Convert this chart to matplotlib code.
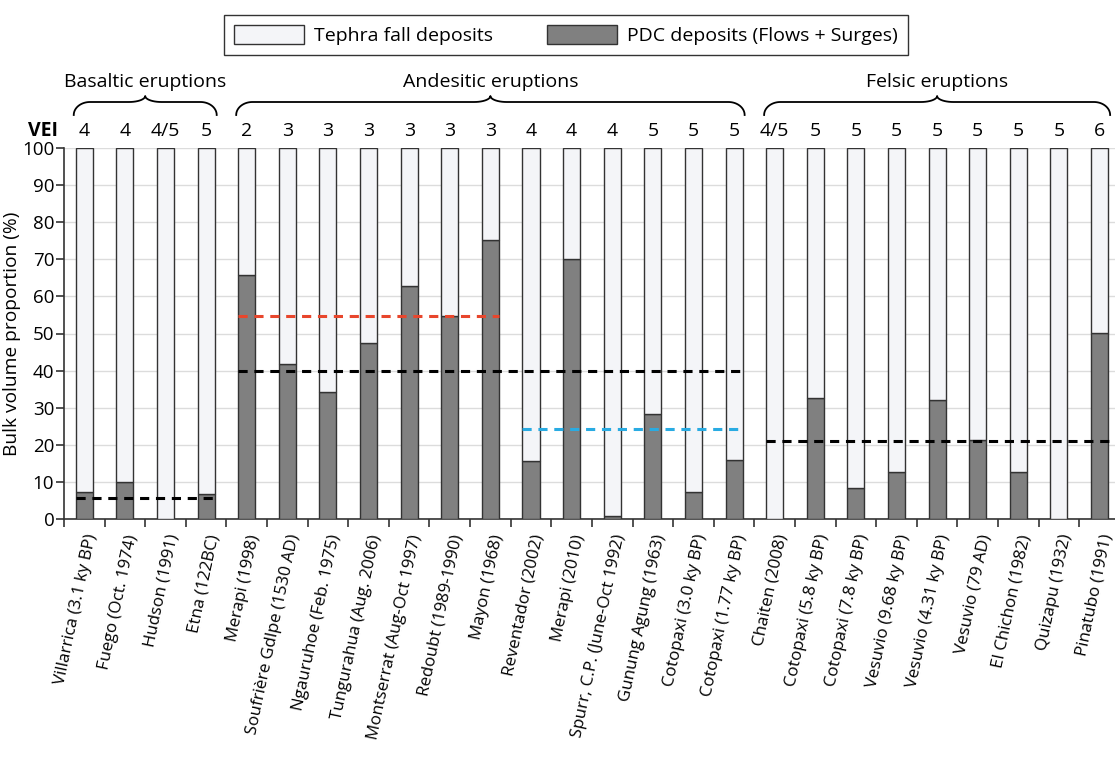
import numpy as np
import matplotlib.pyplot as plt
from matplotlib.transforms import blended_transform_factory, ScaledTranslation

plt.rcParams['font.family'] = ['Open Sans', 'DejaVu Sans']

# eruptions, left to right
eruptions = ['Villarrica (3.1 ky BP)', 'Fuego (Oct. 1974)', 'Hudson (1991)', 'Etna (122BC)',
             'Merapi (1998)', 'Soufrière Gdlpe (1530 AD)', 'Ngauruhoe (Feb. 1975)',
             'Tungurahua (Aug. 2006)', 'Montserrat (Aug-Oct 1997)', 'Redoubt (1989-1990)',
             'Mayon (1968)', 'Reventador (2002)', 'Merapi (2010)', 'Spurr, C.P. (June-Oct 1992)',
             'Gunung Agung (1963)', 'Cotopaxi (3.0 ky BP)', 'Cotopaxi (1.77 ky BP)',
             'Chaiten (2008)', 'Cotopaxi (5.8 ky BP)', 'Cotopaxi (7.8 ky BP)',
             'Vesuvio (9.68 ky BP)', 'Vesuvio (4.31 ky BP)', 'Vesuvio (79 AD)',
             'El Chichon (1982)', 'Quizapu (1932)', 'Pinatubo (1991)']
vei = ['4', '4', '4/5', '5', '2', '3', '3', '3', '3', '3', '3', '4', '4', '4', '5', '5', '5',
       '4/5', '5', '5', '5', '5', '5', '5', '5', '6']
pdc = [7.2, 9.9, 0, 6.7, 65.8, 41.9, 34.3, 47.4, 62.8, 54.6, 75.1, 15.5, 70.2, 0.9,
       28.3, 7.4, 16.0, 0, 32.7, 8.3, 12.6, 32.1, 21.2, 12.6, 0, 50.1]
tephra = [100 - v for v in pdc]

# mean lines: (first bar, last bar, value, colour)
means = [(0, 3, 5.7, 'black'), (4, 10, 54.6, '#e8462c'), (4, 16, 40.0, 'black'),
         (11, 16, 24.3, '#29abe2'), (17, 25, 21.1, 'black')]
# groups: (first bar, last bar, label)
groups = [(0, 3, 'Basaltic eruptions'), (4, 16, 'Andesitic eruptions'),
          (17, 25, 'Felsic eruptions')]

W, H = 1115, 774
fig = plt.figure(figsize=(W / 100, H / 100), dpi=100)
ax = fig.add_axes([64 / W, 1 - 519 / H, (1115 - 64) / W, (519 - 148) / H])

n = len(eruptions)
x = np.arange(n)
bw = 0.42
ax.bar(x, pdc, bw, color='#808080', edgecolor='#333333', linewidth=1, zorder=3)
ax.bar(x, tephra, bw, bottom=pdc, color='#f4f5f8', edgecolor='#333333', linewidth=1,
       zorder=3)

for a, b, v, c in means:
    ax.plot([a - bw / 2, b + bw / 2 + (0.6 if b == n - 1 else 0)], [v, v], ls=(0, (3, 2.2)),
            color=c, lw=2.2, zorder=4, clip_on=False)

ax.set_xlim(-0.5, n - 0.62)
ax.set_ylim(0, 100)
ax.set_yticks(range(0, 101, 10))
ax.yaxis.grid(True, color='#dcdcdc', lw=1, zorder=0)
ax.set_axisbelow(True)
ax.set_xticks(x)
ax.set_xticklabels(eruptions, rotation=78, ha='right', rotation_mode='anchor', fontsize=12.2)
shift = ScaledTranslation(-10 / 100, 0, fig.dpi_scale_trans)
for lab in ax.get_xticklabels():
    lab.set_transform(lab.get_transform() + shift)
ax.set_xticks(np.arange(-0.5, n - 0.5, 1), minor=True)
ax.tick_params(axis='x', which='major', length=0, pad=10)
ax.tick_params(axis='x', which='minor', length=6, width=1.2, color='#333333')
ax.tick_params(axis='y', length=6, width=1.2, color='#333333', labelsize=13.5, pad=1)
for s in ['top', 'right']:
    ax.spines[s].set_visible(False)
for s in ['left', 'bottom']:
    ax.spines[s].set_color('#333333')
    ax.spines[s].set_linewidth(1.2)
ax.set_ylabel('Bulk volume proportion (%)', fontsize=13.8, labelpad=1)

tr = blended_transform_factory(ax.transData, fig.transFigure)
fy = lambda p: 1 - p / H

# VEI row
fig.text(28 / W, fy(131), 'VEI', fontsize=14, fontweight='bold', va='center', ha='left')
for xi, v in zip(x, vei):
    ax.text(xi, fy(131), v, transform=tr, fontsize=14, ha='center', va='center')


def brace(x0, x1, xm, ytop, ybot, ytip):
    r = 0.4
    t = np.linspace(0, np.pi / 2, 20)
    t2 = np.linspace(0, np.pi / 2, 12)
    xs = np.concatenate([x0 + r * (1 - np.cos(t)),
                         xm - r + r * np.sin(t2),
                         xm + r * (1 - np.cos(t2)),
                         x1 - r + r * np.sin(t)])
    ys = np.concatenate([ybot + (ytop - ybot) * np.sin(t),
                         ytop + (ytip - ytop) * (1 - np.cos(t2)),
                         ytip - (ytip - ytop) * np.sin(t2),
                         ybot + (ytop - ybot) * np.cos(t)])
    ax.plot(xs, ys, transform=tr, color='black', lw=1.3, clip_on=False)


for a, b, lab in groups:
    x0 = a - bw / 2 - 0.05
    x1 = b + bw / 2 + 0.05
    xm = (x0 + x1) / 2
    brace(x0, x1, xm, fy(102), fy(115), fy(96))
    ax.text(xm, fy(82), lab, transform=tr, fontsize=14, ha='center', va='center')

fig.legend(loc='center', bbox_to_anchor=(566 / W, fy(35)), ncol=2, fontsize=14,
           handles=ax.containers[::-1], labels=['Tephra fall deposits', 'PDC deposits (Flows + Surges)'],
           fancybox=False, edgecolor='#333333', framealpha=1, handlelength=3.6, handleheight=1.1,
           handletextpad=0.5, columnspacing=2.8, borderpad=0.5)

fig.savefig('out.png', dpi=100)
